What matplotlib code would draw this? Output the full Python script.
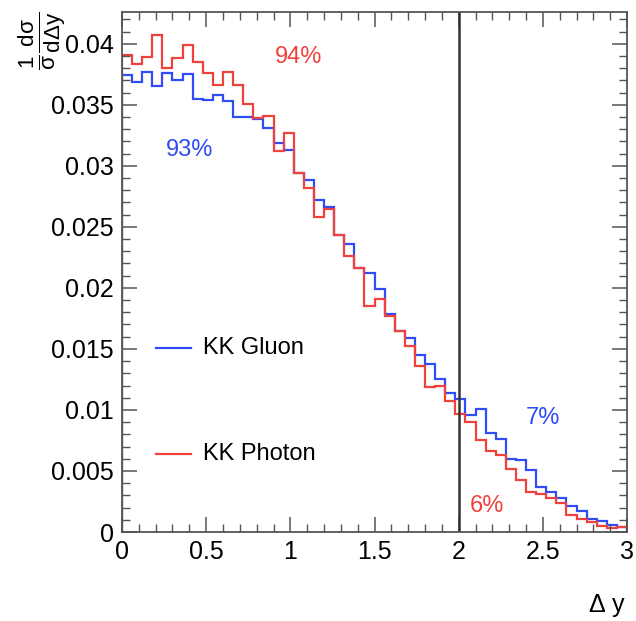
import numpy as np
import matplotlib
matplotlib.use("Agg")
import matplotlib.pyplot as plt
from matplotlib.ticker import MultipleLocator

plt.rcParams['font.family'] = ['Liberation Sans', 'DejaVu Sans']
plt.rcParams['mathtext.fontset'] = 'custom'
plt.rcParams['mathtext.rm'] = 'Liberation Sans'
plt.rcParams['mathtext.it'] = 'Liberation Sans'

# histogram data, 50 bins over 0..3
edges = np.linspace(0, 3, 51)

kk_photon = [0.0391, 0.0383, 0.0389, 0.0407, 0.0380, 0.0388, 0.0399, 0.0385, 0.0376, 0.0366,
             0.0377, 0.0366, 0.0351, 0.0339, 0.0341, 0.0312, 0.0327, 0.0294, 0.0282, 0.0258,
             0.0265, 0.0243, 0.0226, 0.0216, 0.0185, 0.0191, 0.0177, 0.0165, 0.0152, 0.0136,
             0.0119, 0.0120, 0.0107, 0.0097, 0.0090, 0.0075, 0.0066, 0.0063, 0.0052, 0.0043,
             0.0033, 0.0031, 0.0028, 0.0024, 0.0014, 0.0011, 0.0008, 0.0005, 0.0003, 0.0004]

kk_gluon = [0.0374, 0.0369, 0.0377, 0.0365, 0.0376, 0.0370, 0.0375, 0.0355, 0.0354, 0.0358,
            0.0353, 0.0340, 0.0340, 0.0338, 0.0331, 0.0319, 0.0313, 0.0294, 0.0288, 0.0272,
            0.0266, 0.0243, 0.0236, 0.0216, 0.0212, 0.0199, 0.0179, 0.0165, 0.0159, 0.0145,
            0.0138, 0.0125, 0.0114, 0.0109, 0.0096, 0.0101, 0.0081, 0.0076, 0.0060, 0.0059,
            0.0051, 0.0037, 0.0033, 0.0028, 0.0021, 0.0017, 0.0011, 0.0009, 0.0006, 0.0004]

cut = 2.0
blue = '#2f4cf5'
red = '#f0423c'

fig = plt.figure(figsize=(6.36, 6.21), dpi=100)
ax = fig.add_axes([0.1918, 0.1433, 0.7942, 0.8374])

ax.stairs(kk_gluon, edges, color=blue, lw=1.6)
ax.stairs(kk_photon, edges, color=red, lw=1.6)
ax.axvline(cut, color='#333333', lw=1.8)

ax.set_xlim(0, 3)
ax.set_ylim(0, 0.0426)

ax.xaxis.set_major_locator(MultipleLocator(0.5))
ax.xaxis.set_minor_locator(MultipleLocator(0.1))
ax.yaxis.set_major_locator(MultipleLocator(0.005))
ax.yaxis.set_minor_locator(MultipleLocator(0.001))
ax.xaxis.set_major_formatter(plt.FuncFormatter(lambda v, p: ('%g' % v)))
ax.yaxis.set_major_formatter(plt.FuncFormatter(lambda v, p: ('%g' % round(v, 4))))

ax.tick_params(which='both', direction='in', top=True, right=True, colors='#555555',
               labelcolor='black', labelsize=18)
ax.tick_params(which='major', length=11, width=1.1, pad=6)
ax.tick_params(which='minor', length=5.5, width=1.0)
for s in ax.spines.values():
    s.set_color('#555555')
    s.set_linewidth(1.3)

# legend drawn by hand, ROOT style
ax.plot([0.2, 0.41], [0.0151, 0.0151], color=blue, lw=1.6)
ax.text(0.48, 0.0151, 'KK Gluon', fontsize=17, va='center')
ax.plot([0.2, 0.41], [0.0064, 0.0064], color=red, lw=1.6)
ax.text(0.48, 0.0064, 'KK Photon', fontsize=17, va='center')

ax.text(0.4, 0.0313, '93%', color=blue, fontsize=17, ha='center', va='center')
ax.text(1.05, 0.0389, '94%', color=red, fontsize=17, ha='center', va='center')
ax.text(2.5, 0.0093, '7%', color=blue, fontsize=17, ha='center', va='center')
ax.text(2.17, 0.0021, '6%', color=red, fontsize=17, ha='center', va='center')

fig.text(0.984, 0.025, r'$\Delta$ y', fontsize=18, ha='right', va='center')
fig.text(0.066, 0.935, r'$\frac{1}{\sigma}\frac{d\sigma}{d\Delta y}$', fontsize=23,
         rotation=90, ha='center', va='center')

fig.savefig('out.png', dpi=100)
